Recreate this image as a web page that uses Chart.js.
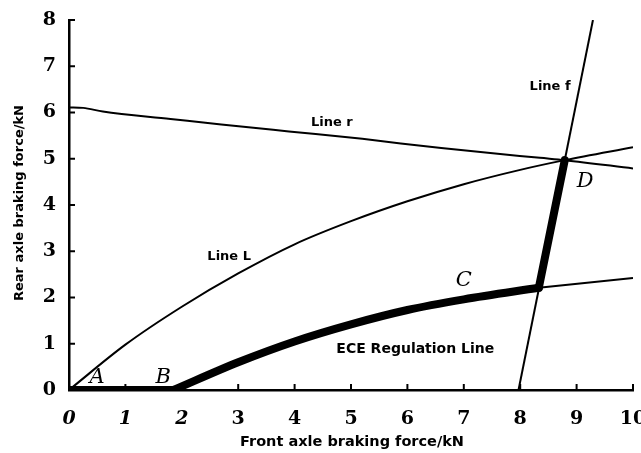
<!DOCTYPE html>
<html><head><meta charset="utf-8">
<script src="https://cdn.jsdelivr.net/npm/chart.js@4/dist/chart.umd.min.js"></script>
<style>html,body{margin:0;padding:0;background:#fff;}#wrap{width:641px;height:453px;}</style>
</head><body><div id="wrap"><canvas id="c" width="641" height="453"></canvas></div>
<script>
// ---- data ----
const xTickValues = [0,1,2,3,4,5,6,7,8,9,10];
const yTickValues = [0,1,2,3,4,5,6,7,8];

const lineR_x = [0, 0.25, 0.6, 1.8, 2.7, 3.9, 5.2, 6.6, 8.35, 8.79, 10];
const lineR_y = [6.11, 6.1, 6.02, 5.86, 5.74, 5.59, 5.43, 5.23, 5.02, 4.97, 4.79];

const lineL_x = [0, 1, 2, 3, 4, 5, 6, 7, 8, 8.79, 10];
const lineL_y = [0, 0.98, 1.8, 2.52, 3.15, 3.65, 4.08, 4.45, 4.76, 4.97, 5.25];

const lineF_x = [7.97, 9.29];
const lineF_y = [0, 8];

const eceThin_x = [8.33, 10];
const eceThin_y = [2.21, 2.42];

const eceThick_x = [1.85, 3, 4, 5, 6, 7, 8.33];
const eceThick_y = [0, 0.6, 1.05, 1.42, 1.73, 1.96, 2.21];

const segAB_x = [0, 1.85];
const segAB_y = [0, 0];

const segCD_x = [8.33, 8.79];
const segCD_y = [2.21, 4.97];

const annotTexts = ['Line r', 'Line L', 'Line f', 'ECE Regulation Line', 'A', 'B', 'C', 'D'];
const annotX = [4.66, 2.84, 8.53, 6.14, 0.5, 1.67, 7.0, 9.15];
const annotY = [5.79, 2.88, 6.57, 0.88, 0.26, 0.28, 2.36, 4.5];

const xTitle = 'Front axle braking force/kN';
const yTitle = 'Rear axle braking force/kN';

// ---- build ----
const pts = (xs, ys) => xs.map((x, i) => ({x: x, y: ys[i]}));
const thin = (xs, ys, mono) => ({data: pts(xs, ys), borderColor: '#000', borderWidth: 2, pointRadius: 0,
  cubicInterpolationMode: mono ? 'monotone' : 'default', tension: 0, fill: false});
const thick = (xs, ys, mono) => ({data: pts(xs, ys), borderColor: '#000', borderWidth: 8, pointRadius: 0,
  borderCapStyle: 'round', borderJoinStyle: 'round',
  cubicInterpolationMode: mono ? 'monotone' : 'default', tension: 0, fill: false});

const tickPlugin = {
  id: 'inwardTicks',
  afterDraw(chart) {
    const ctx = chart.ctx, a = chart.chartArea, xs = chart.scales.x, ys = chart.scales.y;
    ctx.save();
    ctx.strokeStyle = '#000'; ctx.lineWidth = 2;
    ys.ticks.forEach(t => { const p = ys.getPixelForValue(t.value);
      ctx.beginPath(); ctx.moveTo(a.left - 1, p); ctx.lineTo(a.left + 6, p); ctx.stroke(); });
    xs.ticks.forEach(t => { const p = xs.getPixelForValue(t.value);
      ctx.beginPath(); ctx.moveTo(p, a.bottom + 1); ctx.lineTo(p, a.bottom - 6); ctx.stroke(); });
    // annotations
    ctx.fillStyle = '#000'; ctx.textAlign = 'center'; ctx.textBaseline = 'middle';
    annotTexts.forEach((t, i) => {
      const px = xs.getPixelForValue(annotX[i]), py = ys.getPixelForValue(annotY[i]);
      if (t.length === 1) ctx.font = 'italic 21px "DejaVu Serif"';
      else if (t.length > 8) ctx.font = 'bold 14px "DejaVu Sans"';
      else ctx.font = 'bold 13px "DejaVu Sans"';
      ctx.fillText(t, px, py);
    });
    ctx.font = 'bold 14.5px "DejaVu Sans"';
    ctx.fillText(xTitle, 352, 442);
    ctx.font = 'bold 13px "DejaVu Sans"';
    ctx.translate(20, 203); ctx.rotate(-Math.PI / 2);
    ctx.fillText(yTitle, 0, 0);
    ctx.restore();
  }
};

new Chart(document.getElementById('c'), {
  type: 'line',
  data: { datasets: [
    thin(lineR_x, lineR_y, true),
    thin(lineL_x, lineL_y, true),
    thin(lineF_x, lineF_y, false),
    thin(eceThin_x, eceThin_y, false),
    thick(segAB_x, segAB_y, false),
    thick(eceThick_x, eceThick_y, true),
    thick(segCD_x, segCD_y, false)
  ]},
  options: {
    responsive: false, animation: false, devicePixelRatio: 1,
    layout: { padding: { top: 20, right: 8, left: 0, bottom: 0 } },
    plugins: { legend: { display: false }, tooltip: { enabled: false } },
    scales: {
      x: { type: 'linear', min: 0, max: 10,
        afterBuildTicks: s => { s.ticks = xTickValues.map(v => ({value: v})); },
        afterFit: s => { s.height = 63; s.paddingLeft = 0; s.paddingRight = 0; },
        grid: { display: false }, border: { display: true, color: '#000', width: 2.5 },
        ticks: { padding: 10, color: '#000', maxRotation: 0, autoSkip: false,
          font: c => ({ family: '"DejaVu Serif"', size: 19, weight: 'bold', style: (c.index < 3 ? 'italic' : 'normal') }) } },
      y: { min: 0, max: 8,
        afterBuildTicks: s => { s.ticks = yTickValues.map(v => ({value: v})); },
        afterFit: s => { s.width = 69; s.paddingTop = 0; s.paddingBottom = 0; },
        grid: { display: false }, border: { display: true, color: '#000', width: 2.5 },
        ticks: { padding: 5, color: '#000', autoSkip: false,
          font: { family: '"DejaVu Serif"', size: 19, weight: 'bold' } } }
    }
  },
  plugins: [tickPlugin]
});
</script></body></html>
